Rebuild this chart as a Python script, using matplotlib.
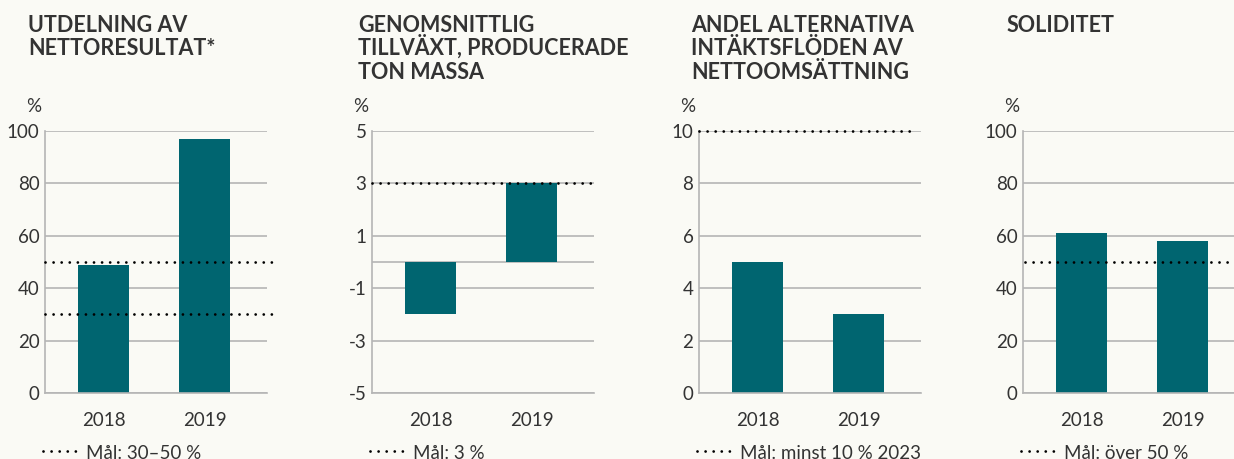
import matplotlib
matplotlib.use("Agg")
import matplotlib.pyplot as plt
from matplotlib.lines import Line2D

#%% data
years = ["2018", "2019"]

titles = [
    ["UTDELNING AV", "NETTORESULTAT*"],
    ["GENOMSNITTLIG", "TILLVÄXT, PRODUCERADE", "TON MASSA"],
    ["ANDEL ALTERNATIVA", "INTÄKTSFLÖDEN AV", "NETTOOMSÄTTNING"],
    ["SOLIDITET"],
]
values = [
    [49, 97],   # utdelning av nettoresultat
    [-2, 3],    # tillväxt, producerade ton massa
    [5, 3],     # andel alternativa intäktsflöden
    [61, 58],   # soliditet
]
targets = [
    [30, 50],
    [3],
    [10],
    [50],
]
target_labels = [
    "Mål: 30–50 %",
    "Mål: 3 %",
    "Mål: minst 10 % 2023",
    "Mål: över 50 %",
]
y_ranges = [(0, 100), (-5, 5), (0, 10), (0, 100)]
y_ticks = [
    [0, 20, 40, 60, 80, 100],
    [-5, -3, -1, 1, 3, 5],
    [0, 2, 4, 6, 8, 10],
    [0, 20, 40, 60, 80, 100],
]
y_grid_extra = [[], [0], [], []]

#%% layout (pixels)
W, H = 1234, 459
BG = "#fafaf5"
BAR = "#006570"
GRID = "#b5b5b5"
TXT = "#333333"
ax_left = [45, 372, 699, 1023]
ax_width = 222
ax_top, ax_bottom = 131, 393
title_x = [28, 358, 691, 1007]
title_base, title_step = 31.5, 23.7
target_span = [(0, 1.03), (0, 1.0), (0, 0.98), (0.01, 0.93)]

plt.rcParams["font.family"] = ["Lato", "DejaVu Sans"]
plt.rcParams["axes.unicode_minus"] = False

fig = plt.figure(figsize=(W / 100, H / 100), dpi=100, facecolor=BG)


def px2fig(x, y):
    return x / W, 1 - y / H


dot_style = dict(color="black", linewidth=2.0, linestyle=(0, (0.01, 2.9)),
                 dash_capstyle="round")

for i in range(4):
    l, b = px2fig(ax_left[i], ax_bottom)
    ax = fig.add_axes([l, b, ax_width / W, (ax_bottom - ax_top) / H])
    ax.set_facecolor(BG)
    ax.bar(range(len(years)), values[i], width=0.5, color=BAR, zorder=2)
    ax.set_xlim(-0.58, 1.62)
    ax.set_ylim(*y_ranges[i])
    ax.set_yticks(y_ticks[i])
    ax.set_xticks(range(len(years)))
    ax.set_xticklabels(years)
    for g in y_ticks[i] + y_grid_extra[i]:
        ax.axhline(g, color=GRID, linewidth=1.2, zorder=1)
    for t in targets[i]:
        ax.axhline(t, xmin=target_span[i][0], xmax=target_span[i][1],
                   clip_on=False, zorder=3, **dot_style)
    for s in ["top", "right"]:
        ax.spines[s].set_visible(False)
    for s in ["left", "bottom"]:
        ax.spines[s].set_color(GRID)
        ax.spines[s].set_linewidth(1.2)
    ax.tick_params(axis="both", length=0, labelsize=13.5, colors=TXT)
    ax.tick_params(axis="y", pad=4)
    ax.tick_params(axis="x", pad=14)

    # % unit above the axis
    ux, uy = px2fig(ax_left[i] - 4, 106)
    fig.text(ux, uy, "%", ha="right", va="center", fontsize=13.5, color=TXT)

    # title, one line at a time for even spacing
    for k, line in enumerate(titles[i]):
        tx, ty = px2fig(title_x[i], title_base + k * title_step)
        fig.text(tx, ty, line, ha="left", va="baseline", fontsize=15.5,
                 fontweight="bold", color=TXT)

    # target legend at the bottom
    lx0, ly = px2fig(ax_left[i] - 2, 451)
    lx1, _ = px2fig(ax_left[i] + 35, 451)
    fig.add_artist(Line2D([lx0, lx1], [ly, ly], **dot_style))
    fx, fy = px2fig(ax_left[i] + 41, 445)
    fig.text(fx, fy, target_labels[i], ha="left", va="top", fontsize=13.5,
             color=TXT)

fig.savefig("out.png", dpi=100, facecolor=BG)
